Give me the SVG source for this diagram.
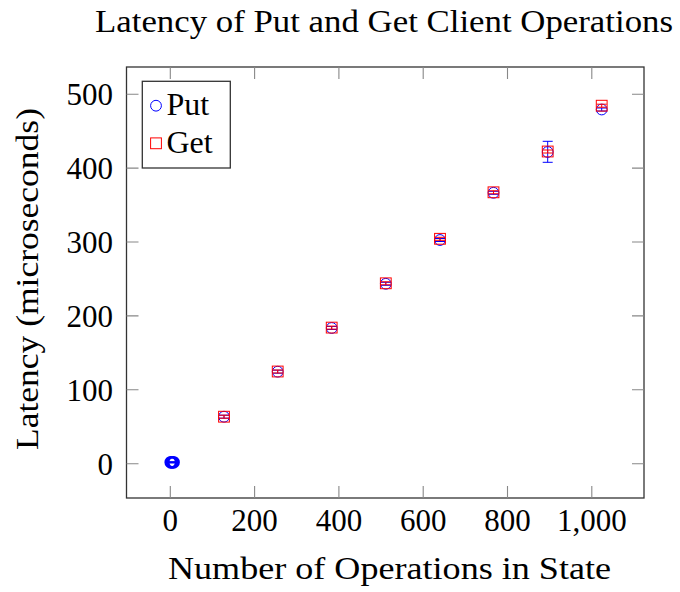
<svg xmlns="http://www.w3.org/2000/svg" width="680" height="592" viewBox="0 0 680 592">
  <style>
    text { font-family: "Liberation Serif", "DejaVu Serif", serif; fill: #000; }
    .title { font-size: 32px; }
    .lbl { font-size: 32px; }
    .leg { font-size: 32px; }
    .tick { font-size: 31px; }
    .frame { fill: none; stroke: #333; stroke-width: 1.3; }
    .tk { stroke: #888; stroke-width: 1.1; }
    .put { fill: none; stroke: #0000ff; stroke-width: 1; }
    .get { fill: none; stroke: #ff0000; stroke-width: 1; }
    .eput { stroke: #0000ff; stroke-width: 1; fill: none; }
    .eget { stroke: #ff0000; stroke-width: 1; fill: none; }
  </style>
  <defs>
    <circle id="mput" r="5.4" class="put"/>
    <rect id="mget" x="-5.4" y="-5.4" width="10.8" height="10.8" class="get"/>
    <!-- tiny error bar: two caps close together -->
    <path id="ebput" d="M-5,-1.5 H5 M-5,1.5 H5 M0,-1.5 V1.5" class="eput"/>
    <path id="ebget" d="M-5,-1.5 H5 M-5,1.5 H5 M0,-1.5 V1.5" class="eget"/>
  </defs>

  <rect width="680" height="592" fill="#fff"/>

  <text class="title" x="384" y="32" text-anchor="middle" textLength="578" lengthAdjust="spacingAndGlyphs">Latency of Put and Get Client Operations</text>

  <g id="axes">
    <rect class="frame" x="126.5" y="67" width="517.5" height="431"/>
    <!-- x ticks bottom and top -->
    <path class="tk" d="M170.3,498 V486 M254.6,498 V486 M338.9,498 V486 M423.2,498 V486 M507.5,498 V486 M591.8,498 V486
                        M170.3,67 V79 M254.6,67 V79 M338.9,67 V79 M423.2,67 V79 M507.5,67 V79 M591.8,67 V79"/>
    <!-- y ticks left and right -->
    <path class="tk" d="M126.5,463.7 H138.5 M126.5,389.8 H138.5 M126.5,315.9 H138.5 M126.5,242 H138.5 M126.5,168.1 H138.5 M126.5,94.2 H138.5
                        M644,463.7 H632 M644,389.8 H632 M644,315.9 H632 M644,242 H632 M644,168.1 H632 M644,94.2 H632"/>
  </g>

  <g id="xticklabels" class="tick" text-anchor="middle">
    <text x="170.3" y="530.5">0</text>
    <text x="254.6" y="530.5">200</text>
    <text x="338.9" y="530.5">400</text>
    <text x="423.2" y="530.5">600</text>
    <text x="507.5" y="530.5">800</text>
    <text x="591.8" y="530.5">1,000</text>
  </g>
  <g id="yticklabels" class="tick" text-anchor="end">
    <text x="113" y="474.8">0</text>
    <text x="113" y="400.9">100</text>
    <text x="113" y="327">200</text>
    <text x="113" y="253.1">300</text>
    <text x="113" y="179.2">400</text>
    <text x="113" y="105.3">500</text>
  </g>

  <text class="lbl" x="389.5" y="578.5" text-anchor="middle" textLength="443" lengthAdjust="spacingAndGlyphs">Number of Operations in State</text>
  <text class="lbl" transform="translate(38,279) rotate(-90)" x="0" y="0" text-anchor="middle" textLength="342" lengthAdjust="spacingAndGlyphs">Latency (microseconds)</text>

  <!-- Put series (blue circles) -->
  <g id="series-put">
    <g>
      <circle cx="170.8" cy="462.3" r="5.2" fill="none" stroke="#0000ff" stroke-width="2.4"/>
      <circle cx="172" cy="462.3" r="5.2" fill="none" stroke="#0000ff" stroke-width="2.4"/>
      <circle cx="173.5" cy="462.3" r="5.2" fill="none" stroke="#0000ff" stroke-width="2.4"/>
      <path d="M166,462.3 H178" stroke="#0000ff" stroke-width="2.4"/>
    </g>
    <use href="#mput" x="224" y="416.7"/><use href="#ebput" x="224" y="416.7"/>
    <use href="#mput" x="277.7" y="371.7"/><use href="#ebput" x="277.7" y="371.7"/>
    <use href="#mput" x="331.7" y="328"/><use href="#ebput" x="331.7" y="328"/>
    <use href="#mput" x="385.8" y="283.8"/><use href="#ebput" x="385.8" y="283.8"/>
    <use href="#mput" x="440" y="240"/><use href="#ebput" x="440" y="240"/>
    <use href="#mput" x="493.5" y="192.8"/><use href="#ebput" x="493.5" y="192.8"/>
    <use href="#mput" x="547.7" y="152"/>
    <path class="eput" d="M542.7,141.3 H552.7 M542.7,162.3 H552.7 M547.7,141.3 V162.3"/>
    <use href="#mput" x="601.7" y="109.5"/><use href="#ebput" x="601.7" y="109.5"/>
  </g>

  <!-- Get series (red squares) -->
  <g id="series-get">
    <use href="#mget" x="224" y="416.7"/><use href="#ebget" x="224" y="416.7"/>
    <use href="#mget" x="277.7" y="371.5"/><use href="#ebget" x="277.7" y="371.5"/>
    <use href="#mget" x="331.7" y="327.6"/><use href="#ebget" x="331.7" y="327.6"/>
    <use href="#mget" x="385.8" y="283.3"/><use href="#ebget" x="385.8" y="283.3"/>
    <use href="#mget" x="440" y="238.8"/><use href="#ebget" x="440" y="238.8"/>
    <use href="#mget" x="493.5" y="192.3"/><use href="#ebget" x="493.5" y="192.3"/>
    <use href="#mget" x="547.7" y="151.5"/><use href="#ebget" x="547.7" y="151.5"/>
    <use href="#mget" x="601.7" y="105.7"/><use href="#ebget" x="601.7" y="105.7"/>
  </g>

  <g id="legend">
    <rect x="142.3" y="81.3" width="88" height="86.7" fill="#fff" stroke="#333" stroke-width="1.3"/>
    <use href="#mput" x="156" y="105.7"/>
    <text class="leg" x="166.5" y="115">Put</text>
    <use href="#mget" x="156" y="143.3"/>
    <text class="leg" x="166.5" y="152.7">Get</text>
  </g>
</svg>
